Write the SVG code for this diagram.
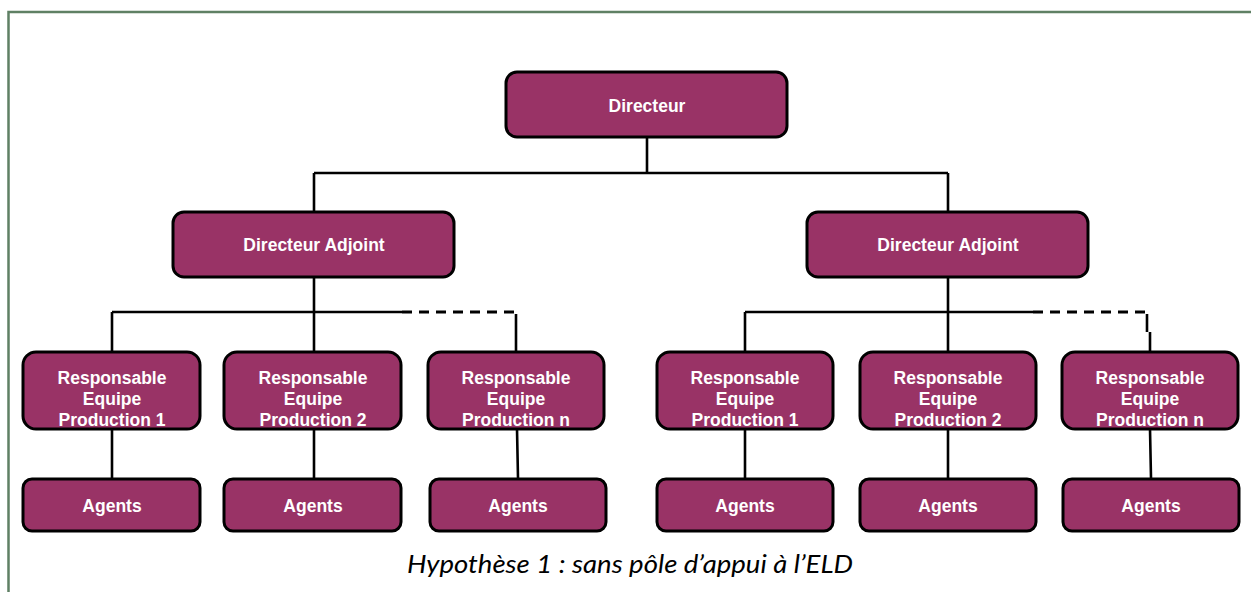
<svg xmlns="http://www.w3.org/2000/svg" width="1251" height="592" viewBox="0 0 1251 592">
<style>
.box{fill:#993366;stroke:#000;stroke-width:3}
.t{font-family:"Liberation Sans",Arial,sans-serif;font-weight:bold;font-size:17.5px;fill:#fff;text-anchor:middle}
.c{stroke:#000;stroke-width:2.6;fill:none}
.d{stroke:#000;stroke-width:3;fill:none;stroke-dasharray:10 7}
.cap{font-family:Lato,"Open Sans",sans-serif;font-style:italic;font-size:24.5px;fill:#000;text-anchor:middle}
</style>
<rect width="1251" height="592" fill="#fff"/>
<path d="M8.5,600 V12 H1260" fill="none" stroke="#5f8064" stroke-width="2.5"/>
<g id="connectors">
<path class="c" d="M647,137 V173 M314,173 H948 M314,173 V212 M948,173 V212"/>
<path class="c" d="M314,277 V312 M112,312 H402 M112,312 V352 M314,312 V352"/>
<path class="d" d="M402,312 H516"/>
<path class="c" d="M516,314 V352"/>
<path class="c" d="M948,277 V312 M745,312 H1033 M745,312 V352 M948,312 V352"/>
<path class="d" d="M1033,312 H1147"/>
<path class="c" d="M1147,314 V332 M1150,332 V352"/>
<path class="c" d="M112,429 V478 M314,429 V478 M517,429 L518,478 M745,429 V478 M948,429 V478 M1150,429 L1151,478"/>
</g>
<g id="directeur"><rect class="box" x="506" y="72" width="281" height="65" rx="11"/><text class="t" x="647" y="111.5">Directeur</text></g>
<g id="da1"><rect class="box" x="173" y="212" width="281" height="65" rx="11"/><text class="t" x="314" y="251">Directeur Adjoint</text></g>
<g id="da2"><rect class="box" x="807" y="212" width="281" height="65" rx="11"/><text class="t" x="948" y="251">Directeur Adjoint</text></g>
<g id="rep1a"><rect class="box" x="23" y="352" width="177" height="77" rx="13"/><text class="t" x="112" y="383.5">Responsable<tspan x="112" y="405">Equipe</tspan><tspan x="112" y="426">Production 1</tspan></text></g>
<g id="rep2a"><rect class="box" x="224" y="352" width="177" height="77" rx="13"/><text class="t" x="313" y="383.5">Responsable<tspan x="313" y="405">Equipe</tspan><tspan x="313" y="426">Production 2</tspan></text></g>
<g id="repna"><rect class="box" x="428" y="352" width="176" height="77" rx="13"/><text class="t" x="516" y="383.5">Responsable<tspan x="516" y="405">Equipe</tspan><tspan x="516" y="426">Production n</tspan></text></g>
<g id="rep1b"><rect class="box" x="657" y="352" width="176" height="77" rx="13"/><text class="t" x="745" y="383.5">Responsable<tspan x="745" y="405">Equipe</tspan><tspan x="745" y="426">Production 1</tspan></text></g>
<g id="rep2b"><rect class="box" x="860" y="352" width="176" height="77" rx="13"/><text class="t" x="948" y="383.5">Responsable<tspan x="948" y="405">Equipe</tspan><tspan x="948" y="426">Production 2</tspan></text></g>
<g id="repnb"><rect class="box" x="1062" y="352" width="176" height="77" rx="13"/><text class="t" x="1150" y="383.5">Responsable<tspan x="1150" y="405">Equipe</tspan><tspan x="1150" y="426">Production n</tspan></text></g>
<g id="ag1a"><rect class="box" x="23" y="479" width="177" height="52" rx="9"/><text class="t" x="112" y="511.5">Agents</text></g>
<g id="ag2a"><rect class="box" x="224" y="479" width="177" height="52" rx="9"/><text class="t" x="313" y="511.5">Agents</text></g>
<g id="agna"><rect class="box" x="430" y="479" width="176" height="52" rx="9"/><text class="t" x="518" y="511.5">Agents</text></g>
<g id="ag1b"><rect class="box" x="657" y="479" width="176" height="52" rx="9"/><text class="t" x="745" y="511.5">Agents</text></g>
<g id="ag2b"><rect class="box" x="860" y="479" width="176" height="52" rx="9"/><text class="t" x="948" y="511.5">Agents</text></g>
<g id="agnb"><rect class="box" x="1063" y="479" width="176" height="52" rx="9"/><text class="t" x="1151" y="511.5">Agents</text></g>
<text class="cap" x="630" y="572.5" textLength="446" lengthAdjust="spacingAndGlyphs">Hypothèse 1 : sans pôle d’appui à l’ELD</text>
</svg>
